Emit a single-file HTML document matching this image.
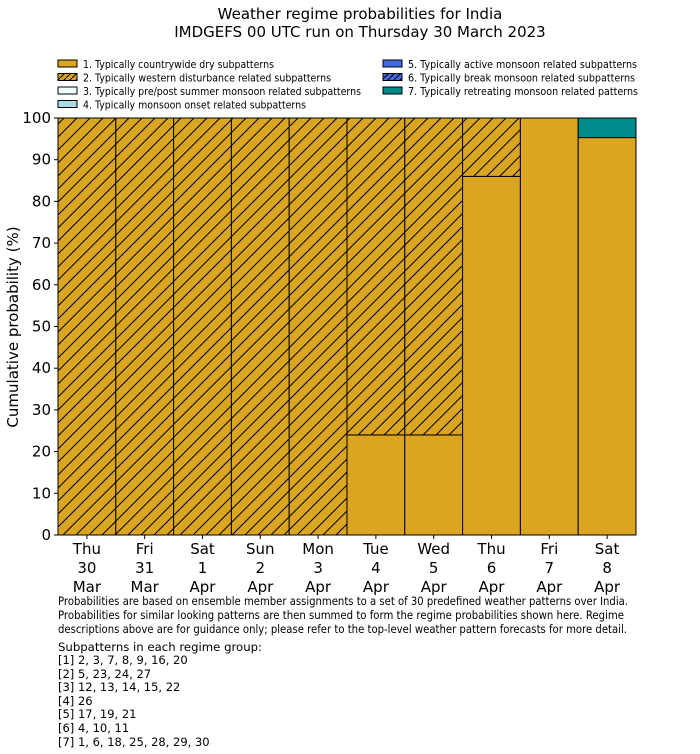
<!DOCTYPE html>
<html><head><meta charset="utf-8"><style>
body{margin:0;background:#fff;}
svg{display:block;font-family:"DejaVu Sans","Liberation Sans",sans-serif;}
</style></head><body>
<svg id="c" width="700" height="754" viewBox="0 0 700 754">
<defs>
<pattern id="hatch" patternUnits="userSpaceOnUse" width="13" height="13">
<rect width="13" height="13" fill="#DAA520"/>
<path d="M-2,15 L15,-2 M-2,2 L2,-2 M11,15 L15,11" stroke="#000" stroke-width="1"/>
</pattern>
<pattern id="hatch2" patternUnits="userSpaceOnUse" width="6" height="6">
<rect width="6" height="6" fill="#DAA520"/>
<path d="M-1,7 L7,-1" stroke="#000" stroke-width="1"/>
</pattern>
<pattern id="hatch3" patternUnits="userSpaceOnUse" width="6" height="6">
<rect width="6" height="6" fill="#4169E1"/>
<path d="M-1,7 L7,-1" stroke="#000" stroke-width="1"/>
</pattern>
</defs>
<text x="360" y="19" font-size="15" text-anchor="middle">Weather regime probabilities for India</text>
<text x="360" y="37" font-size="15" text-anchor="middle">IMDGEFS 00 UTC run on Thursday 30 March 2023</text>
<g id="legend" font-size="10.5"></g>
<g id="plot"></g>
<g font-size="11.5">
<text x="58" y="605" textLength="570" lengthAdjust="spacingAndGlyphs">Probabilities are based on ensemble member assignments to a set of 30 predefined weather patterns over India.</text>
<text x="58" y="619" textLength="566" lengthAdjust="spacingAndGlyphs">Probabilities for similar looking patterns are then summed to form the regime probabilities shown here. Regime</text>
<text x="58" y="633" textLength="569" lengthAdjust="spacingAndGlyphs">descriptions above are for guidance only; please refer to the top-level weather pattern forecasts for more detail.</text>
<text x="58" y="651" textLength="204" lengthAdjust="spacingAndGlyphs">Subpatterns in each regime group:</text>
<text x="58" y="664">[1] 2, 3, 7, 8, 9, 16, 20</text>
<text x="58" y="678">[2] 5, 23, 24, 27</text>
<text x="58" y="691">[3] 12, 13, 14, 15, 22</text>
<text x="58" y="705">[4] 26</text>
<text x="58" y="718">[5] 17, 19, 21</text>
<text x="58" y="732">[6] 4, 10, 11</text>
<text x="58" y="746">[7] 1, 6, 18, 25, 28, 29, 30</text>
</g>
</svg>
<script>
const days = ["Thu|30|Mar","Fri|31|Mar","Sat|1|Apr","Sun|2|Apr","Mon|3|Apr","Tue|4|Apr","Wed|5|Apr","Thu|6|Apr","Fri|7|Apr","Sat|8|Apr"];
const dry = [0,0,0,0,0,24,24,86,100,95.3];
const wd = [100,100,100,100,100,76,76,14,0,0];
const retreat = [0,0,0,0,0,0,0,0,0,4.7];
const yTicks = [0,10,20,30,40,50,60,70,80,90,100];
const legendLabels = ["1. Typically countrywide dry subpatterns","2. Typically western disturbance related subpatterns","3. Typically pre/post summer monsoon related subpatterns","4. Typically monsoon onset related subpatterns","5. Typically active monsoon related subpatterns","6. Typically break monsoon related subpatterns","7. Typically retreating monsoon related patterns"];

const NS="http://www.w3.org/2000/svg";
const X0=58,X1=636,Y0=535,Y1=118;
const bw=(X1-X0)/days.length;
const xs=i=>X0+i*bw;
const ys=v=>Y0-(v/100)*(Y0-Y1);
function mk(t,a,p){const e=document.createElementNS(NS,t);for(const k in a)e.setAttribute(k,a[k]);p.appendChild(e);return e;}
const plot=document.getElementById('plot');
const series=[[dry,"#DAA520","dry"],[wd,"url(#hatch)","western-disturbance"],[retreat,"#008B8B","retreating"]];
for(let i=0;i<days.length;i++){
  let base=0;
  for(const [arr,fill,nm] of series){
    const v=arr[i]; if(v<=0) continue;
    const r=mk('rect',{x:xs(i),y:ys(base+v),width:bw,height:ys(base)-ys(base+v),fill:fill,stroke:"#000","stroke-width":1},plot);
    
    
    base+=v;
  }
  const parts=days[i].split('|');
  parts.forEach((p,j)=>{const t=mk('text',{x:xs(i)+bw/2,y:554+j*19,"font-size":15,"text-anchor":"middle"},plot);t.textContent=p;
    
    });
  mk('line',{x1:xs(i)+bw/2,x2:xs(i)+bw/2,y1:Y0,y2:Y0+4,stroke:"#000"},plot);
}
const fr=mk('rect',{x:X0,y:Y1,width:X1-X0,height:Y0-Y1,fill:"none",stroke:"#000","stroke-width":1},plot);


yTicks.forEach(v=>{
  mk('line',{x1:X0-4,x2:X0,y1:ys(v),y2:ys(v),stroke:"#000"},plot);
  const t=mk('text',{x:X0-7,y:ys(v)+5,"font-size":15,"text-anchor":"end"},plot);t.textContent=v;
  
  
});
const yl=mk('text',{x:18,y:327,"font-size":15,"text-anchor":"middle",transform:"rotate(-90 18 327)"},plot);
yl.textContent="Cumulative probability (%)";


const lg=document.getElementById('legend');
const lfills=["#DAA520","url(#hatch2)","#F0FFFF","#ADD8E6","#4169E1","url(#hatch3)","#008B8B"];
const lwidths=[191,248,278,223,229,227,230];
legendLabels.forEach((l,k)=>{
  const col=k<4?0:1,row=k<4?k:k-4;
  const x=col?383:58,y=60+row*13.5;
  mk('rect',{x:x,y:y,width:19,height:7,fill:lfills[k],stroke:"#000","stroke-width":1},lg);
  const t=mk('text',{x:x+25,y:y+8,textLength:lwidths[k],lengthAdjust:"spacingAndGlyphs"},lg);t.textContent=l;
  
  
});
</script>
</body></html>
